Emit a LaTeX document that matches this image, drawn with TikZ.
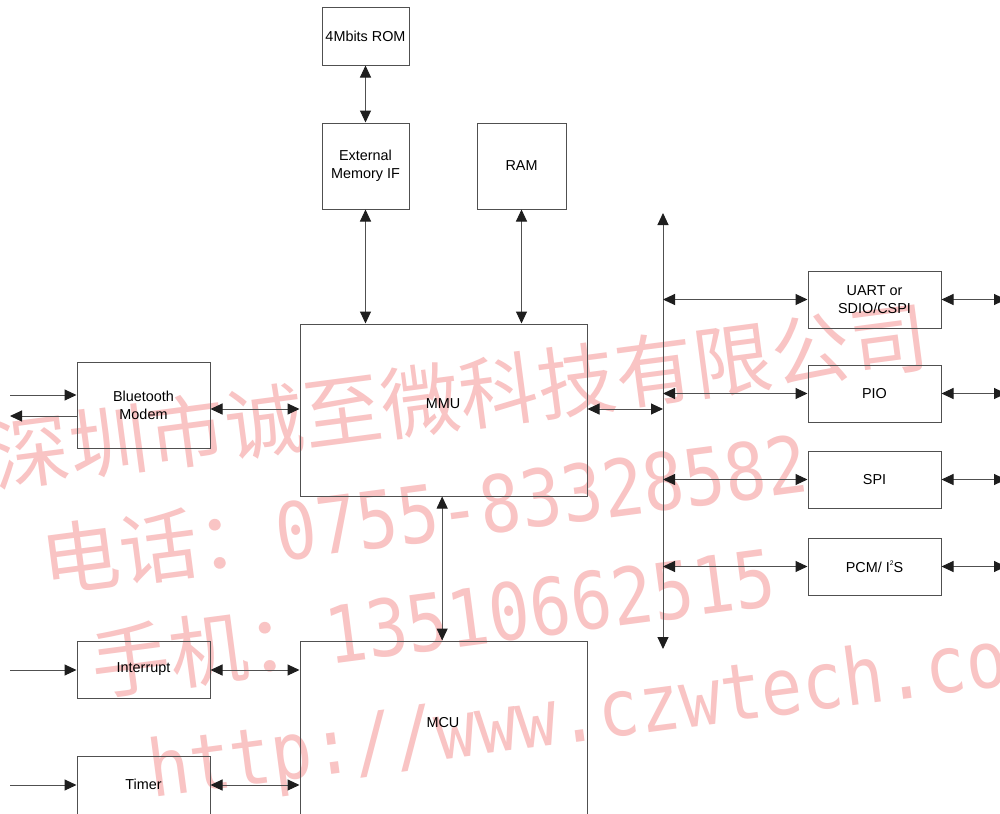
\documentclass[tikz,border=0pt]{standalone}
\usepackage{fontspec}
\setmainfont{Liberation Sans}
\newfontfamily\cjkfont{Noto Sans CJK SC}
\newfontfamily\wmmono[FakeStretch=0.87]{DejaVu Sans Mono}
\usetikzlibrary{arrows.meta}
\definecolor{wm}{RGB}{249,196,196}
\definecolor{edge}{RGB}{80,80,80}
\definecolor{tipc}{RGB}{30,30,30}
\tikzset{
  blk/.style={draw=edge, line width=0.75pt, inner sep=0pt, align=center,
    font=\fontsize{10.8}{13.5}\selectfont},
  lbl/.style={inner sep=0pt, align=center, font=\fontsize{10.8}{13.5}\selectfont},
  bi/.style={draw=edge, line width=0.75pt, {Triangle[length=9pt,width=8.25pt,color=tipc]}-{Triangle[length=9pt,width=8.25pt,color=tipc]}},
  uni/.style={draw=edge, line width=0.75pt, -{Triangle[length=9pt,width=8.25pt,color=tipc]}},
  wmtext/.style={text=wm, rotate=7.5, anchor=base west, inner sep=0pt}
}
\begin{document}
\begin{tikzpicture}[x=0.75pt,y=-0.75pt]
\useasboundingbox (0,0) rectangle (1000,814);
\clip (0,0) rectangle (1000,814);
\fill[white] (0,0) rectangle (1000,814);

% watermark
\node[wmtext, font=\cjkfont\fontsize{59}{59}\selectfont] (wm1) at (-5,487) {深圳市诚至微科技有限公司};
\node[wmtext, font=\fontsize{59}{59}\selectfont] (wm2) at (45,592) {{\cjkfont 电话：}{\wmmono 0755-83328582}};
\node[wmtext, font=\fontsize{59}{59}\selectfont] (wm3) at (95,695) {{\cjkfont 手机：}{\wmmono 13510662515}};
\node[wmtext, font=\wmmono\fontsize{59}{59}\selectfont] (wm4) at (152,798) {http://www.czwtech.com};

% blocks
\node[blk, minimum width=65.25pt, minimum height=43.5pt] (rom) at (365.5,36) {4Mbits ROM};
\node[blk, minimum width=65.25pt, minimum height=64.5pt] (ext) at (365.5,166) {External\\Memory IF};
\node[blk, minimum width=66.75pt, minimum height=64.5pt] (ram) at (521.5,166) {RAM};
\node[blk, minimum width=215.25pt, minimum height=129pt] (mmu) at (443.5,410) {};
\node[lbl] (mmutxt) at (443,404) {MMU};
\node[blk, minimum width=215.25pt, minimum height=141.75pt] (mcu) at (443.5,735.5) {};
\node[lbl] (mcutxt) at (443,723) {MCU};
\node[blk, minimum width=99.75pt, minimum height=64.5pt] (bt) at (143.5,405) {Bluetooth\\Modem};
\node[blk, minimum width=99.75pt, minimum height=42.75pt] (intr) at (143.5,669.5) {Interrupt};
\node[blk, minimum width=99.75pt, minimum height=55.5pt] (timer) at (143.5,793) {};
\node[lbl] (timertxt) at (143.5,784) {Timer};
\node[blk, minimum width=99.75pt, minimum height=42.75pt] (uart) at (874.5,299.5) {UART or\\SDIO/CSPI};
\node[blk, minimum width=99.75pt, minimum height=42.75pt] (pio) at (874.5,393.5) {PIO};
\node[blk, minimum width=99.75pt, minimum height=42.75pt] (spi) at (874.5,479.5) {SPI};
\node[blk, minimum width=99.75pt, minimum height=42.75pt] (pcm) at (874.5,566.5) {PCM/ I\raisebox{0.9ex}{\fontsize{5}{5}\selectfont 2}S};

% bus
\coordinate (bustop) at (663,213);
\coordinate (busbot) at (663,649);
\draw[bi] (bustop) -- (busbot);
\coordinate (rend) at (1006,0);

% vertical links
\draw[bi] (rom.south) -- (ext.north);
\draw[bi] (ext.south) -- (ext.south |- mmu.north);
\draw[bi] (ram.south) -- (ram.south |- mmu.north);
\draw[bi] ([xshift=-1pt]mmu.south) -- ([xshift=-1pt]mcu.north);

% MMU links
\coordinate (mmuy) at (0,409);
\draw[bi] (bt.east |- mmuy) -- (mmu.west |- mmuy);
\draw[bi] (mmu.east |- mmuy) -- (bustop |- mmuy);

% bus to peripherals
\draw[bi] (uart.west -| bustop) -- (uart.west);
\draw[bi] (pio.west -| bustop) -- (pio.west);
\draw[bi] (spi.west -| bustop) -- (spi.west);
\draw[bi] (pcm.west -| bustop) -- (pcm.west);
\draw[bi] (uart.east) -- (uart.east -| rend);
\draw[bi] (pio.east) -- (pio.east -| rend);
\draw[bi] (spi.east) -- (spi.east -| rend);
\draw[bi] (pcm.east) -- (pcm.east -| rend);

% left inputs
\coordinate (btin) at (10,395);
\coordinate (btout) at (10,416);
\draw[uni] (btin) -- (btin -| bt.west);
\draw[uni] (btout -| bt.west) -- (btout);
\coordinate (intin) at (10,670);
\draw[uni] (intin) -- (intin -| intr.west);
\draw[bi] (intin -| intr.east) -- (intin -| mcu.west);
\coordinate (tin) at (10,785);
\draw[uni] (tin) -- (tin -| timer.west);
\draw[bi] (tin -| timer.east) -- (tin -| mcu.west);
\end{tikzpicture}
\end{document}
